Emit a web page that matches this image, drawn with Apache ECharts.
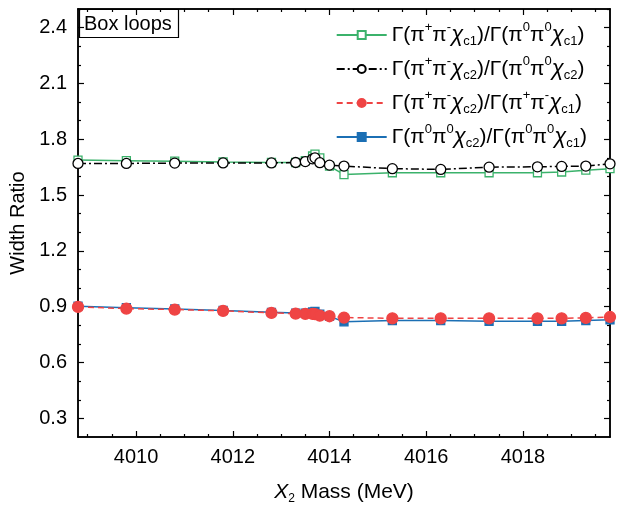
<!DOCTYPE html>
<html style="height: 100%">
  <head>
    <meta charset="utf-8" />
  </head>
  <body style="height: 100%; margin: 0; background: #fff">
    <div id="container" style="width: 620px; height: 506px"></div>

    <script src="https://cdn.jsdelivr.net/npm/echarts@6/dist/echarts.min.js"></script>
    <script type="text/javascript">
      // X2 mass (MeV)
      var massX = [
        4008.8, 4009.8, 4010.8, 4011.8, 4012.8, 4013.3, 4013.5, 4013.65,
        4013.7, 4013.8, 4014.0, 4014.3, 4015.3, 4016.3, 4017.3, 4018.3,
        4018.8, 4019.3, 4019.8,
      ];

      // ratio values
      var ratioPPc1 = [
        1.688, 1.685, 1.682, 1.678, 1.675, 1.675, 1.685, 1.71, 1.72, 1.7,
        1.656, 1.61, 1.62, 1.62, 1.62, 1.62, 1.624, 1.634, 1.642,
      ];
      var ratioPPc2 = [
        1.67, 1.67, 1.672, 1.673, 1.673, 1.675, 1.68, 1.695, 1.7, 1.674,
        1.661, 1.656, 1.642, 1.638, 1.65, 1.652, 1.654, 1.656, 1.668,
      ];
      var ratioC2C1 = [
        0.899, 0.89, 0.885, 0.878, 0.867, 0.863, 0.862, 0.862, 0.86, 0.852,
        0.849, 0.842, 0.838, 0.838, 0.838, 0.838, 0.838, 0.84, 0.845,
      ];
      var ratioNeutral = [
        0.903, 0.895, 0.888, 0.88, 0.87, 0.866, 0.866, 0.872, 0.875, 0.86,
        0.848, 0.819, 0.826, 0.826, 0.822, 0.822, 0.822, 0.826, 0.83,
      ];

      var seriesNames = ["ppc1", "ppc2", "c2c1", "neutral"];
      var legendLabels = [
        "{n|Γ(π}{sup|+}{n|π}{sup|-}{i|χ}{sub|c1}{n|)/Γ(π}{sup|0}{n|π}{sup|0}{i|χ}{sub|c1}{n|)}",
        "{n|Γ(π}{sup|+}{n|π}{sup|-}{i|χ}{sub|c2}{n|)/Γ(π}{sup|0}{n|π}{sup|0}{i|χ}{sub|c2}{n|)}",
        "{n|Γ(π}{sup|+}{n|π}{sup|-}{i|χ}{sub|c2}{n|)/Γ(π}{sup|+}{n|π}{sup|-}{i|χ}{sub|c1}{n|)}",
        "{n|Γ(π}{sup|0}{n|π}{sup|0}{i|χ}{sub|c2}{n|)/Γ(π}{sup|0}{n|π}{sup|0}{i|χ}{sub|c1}{n|)}",
      ];

      var xMajor = [4010, 4012, 4014, 4016, 4018];
      var xMinor = [
        4009, 4009.5, 4010.5, 4011, 4011.5, 4012.5, 4013, 4013.5, 4014.5,
        4015, 4015.5, 4016.5, 4017, 4017.5, 4018.5, 4019, 4019.5,
      ];
      var yMajor = [0.3, 0.6, 0.9, 1.2, 1.5, 1.8, 2.1, 2.4];
      var yMinor = [
        0.4, 0.5, 0.7, 0.8, 1.0, 1.1, 1.3, 1.4, 1.6, 1.7, 1.9, 2.0, 2.2, 2.3,
        2.5,
      ];

      var FONT = "Liberation Sans";
      var rich = {
        n: { fontSize: 21, fontFamily: FONT, color: "#000" },
        i: { fontSize: 22, fontFamily: FONT, fontStyle: "italic", color: "#000" },
        sup: { fontSize: 13, fontFamily: FONT, color: "#000", padding: [0, 0, 15, 0] },
        sub: { fontSize: 13, fontFamily: FONT, color: "#000", padding: [13, 0, 0, 0] },
      };

      function pairs(ys) {
        return massX.map(function (x, i) {
          return [x, ys[i]];
        });
      }

      function xAxisDef(pos, values, len, showLabel) {
        return {
          type: "value",
          position: pos,
          min: 4008.8,
          max: 4019.8,
          axisLine: { show: true, onZero: false, lineStyle: { color: "#000", width: 1.5 } },
          axisTick: {
            show: true,
            inside: true,
            length: len,
            customValues: values,
            lineStyle: { color: "#000", width: 1.2 },
          },
          axisLabel: {
            show: showLabel,
            customValues: values,
            fontSize: 20,
            fontFamily: FONT,
            color: "#000",
            margin: 10,
            formatter: function (v) {
              return String(v);
            },
          },
          splitLine: { show: false },
        };
      }

      function yAxisDef(pos, values, len, showLabel) {
        return {
          type: "value",
          position: pos,
          min: 0.2,
          max: 2.5,
          axisLine: { show: true, onZero: false, lineStyle: { color: "#000", width: 1.5 } },
          axisTick: {
            show: true,
            inside: true,
            length: len,
            customValues: values,
            lineStyle: { color: "#000", width: 1.2 },
          },
          axisLabel: {
            show: showLabel,
            customValues: values,
            fontSize: 20,
            fontFamily: FONT,
            color: "#000",
            margin: 11,
            formatter: function (v) {
              return v.toFixed(1);
            },
          },
          splitLine: { show: false },
        };
      }

      var xAxes = [
        xAxisDef("bottom", xMajor, 6, true),
        xAxisDef("bottom", xMinor, 3, false),
        xAxisDef("top", xMajor, 6, false),
        xAxisDef("top", xMinor, 3, false),
      ];
      xAxes[0].name = "{i|X}{sub|2}{n| Mass (MeV)}";
      xAxes[0].nameLocation = "middle";
      xAxes[0].nameGap = 43;
      xAxes[0].nameTextStyle = {
        rich: {
          n: { fontSize: 21, fontFamily: FONT, color: "#000" },
          i: { fontSize: 21, fontFamily: FONT, fontStyle: "italic", color: "#000" },
          sub: { fontSize: 12, fontFamily: FONT, color: "#000", padding: [13, 0, 0, 0] },
        },
      };

      var yAxes = [
        yAxisDef("left", yMajor, 6, true),
        yAxisDef("left", yMinor, 3, false),
        yAxisDef("right", yMajor, 6, false),
        yAxisDef("right", yMinor, 3, false),
      ];
      yAxes[0].name = "Width Ratio";
      yAxes[0].nameLocation = "middle";
      yAxes[0].nameGap = 46;
      yAxes[0].nameTextStyle = { fontSize: 20, fontFamily: FONT, color: "#000" };

      var styles = [
        { color: "#3bb26b", symbol: "rect", size: 8, fill: "#fff", dash: "solid", z: 2, data: ratioPPc1 },
        { color: "#000000", symbol: "circle", size: 10, fill: "#fff", dash: [8, 3, 2, 3], z: 3, data: ratioPPc2 },
        { color: "#ef4444", symbol: "circle", size: 11, fill: "#ef4444", dash: [6, 4], z: 4, data: ratioC2C1 },
        { color: "#1b6fb4", symbol: "rect", size: 8, fill: "#1b6fb4", dash: "solid", z: 3, data: ratioNeutral },
      ];

      var series = styles.map(function (s, k) {
        return {
          name: seriesNames[k],
          type: "line",
          data: pairs(s.data),
          symbol: s.symbol,
          symbolSize: s.size,
          z: s.z,
          lineStyle: { color: s.color, width: 1.5, type: s.dash },
          itemStyle: { color: s.fill, borderColor: s.color, borderWidth: 1.3 },
          emphasis: { disabled: true },
        };
      });

      var myChart = echarts.init(document.getElementById("container"));
      var option = {
        backgroundColor: "#fff",
        animation: false,
        title: {
          text: "Box loops",
          left: 79,
          top: 9,
          padding: [5, 7, 4, 5],
          borderColor: "#000",
          borderWidth: 1.2,
          textStyle: { fontSize: 20, fontWeight: "normal", fontFamily: FONT, color: "#000" },
        },
        grid: { left: 78, right: 10, top: 9, bottom: 69, outerBoundsMode: "none" },
        legend: {
          orient: "vertical",
          right: 28,
          top: 16,
          itemWidth: 50,
          itemHeight: 10,
          itemGap: 7,
          data: seriesNames,
          formatter: function (name) {
            return legendLabels[seriesNames.indexOf(name)];
          },
          textStyle: { rich: rich },
        },
        xAxis: xAxes,
        yAxis: yAxes,
        series: series,
      };
      myChart.setOption(option);
    </script>
  </body>
</html>
